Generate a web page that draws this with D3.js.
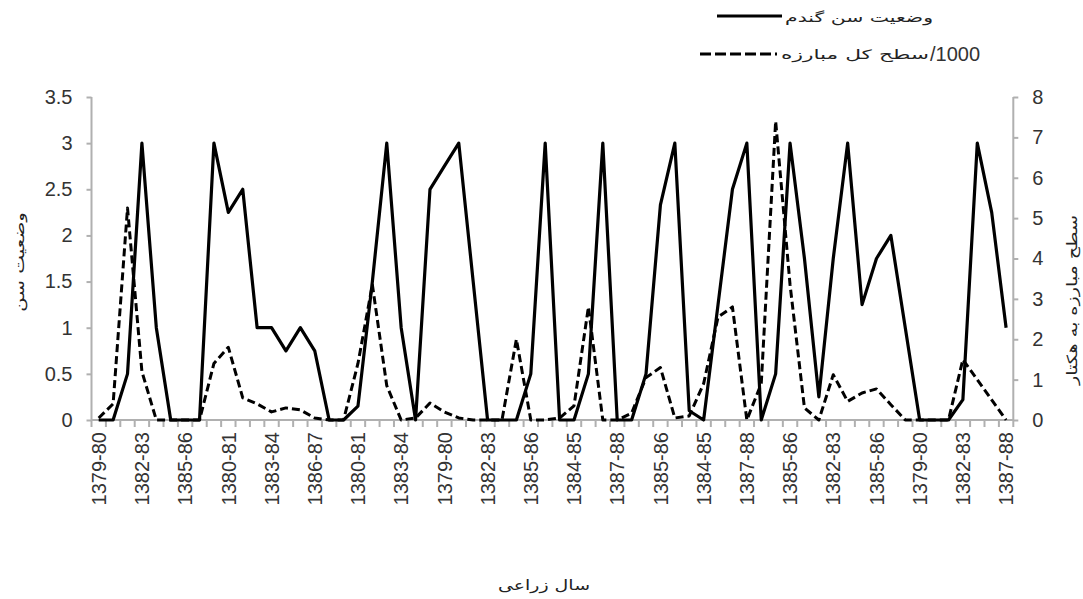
<!DOCTYPE html>
<html lang="fa">
<head>
    <meta charset="UTF-8">
    <title>وضعیت سن گندم و سطح مبارزه</title>
    <script src="https://d3js.org/d3.v7.min.js"></script>
    <style>
        body { margin: 0; background: #fff; }
        svg { display: block; }
        .num { font-family: "Liberation Sans", Arial, sans-serif; font-size: 20px; fill: #333; }
        .fa { font-family: "DejaVu Sans", sans-serif; fill: #222; }
    </style>
</head>
<body>
    <svg width="1083" height="599"></svg>

    <script>
        // categories (crop years, several regions one after another)
        var categories = [
            "1379-80", "1380-81", "1381-82", "1382-83", "1383-84", "1384-85", "1385-86", "1386-87", "1387-88",
            "1380-81", "1381-82", "1382-83", "1383-84", "1384-85", "1385-86", "1386-87", "1387-88",
            "1379-80", "1380-81", "1381-82", "1382-83", "1383-84", "1384-85", "1385-86",
            "1379-80", "1380-81", "1381-82", "1382-83", "1383-84", "1384-85", "1385-86", "1386-87", "1387-88",
            "1384-85", "1385-86", "1386-87", "1387-88",
            "1383-84", "1384-85", "1385-86", "1386-87", "1387-88",
            "1384-85", "1385-86", "1386-87", "1387-88",
            "1383-84", "1384-85", "1385-86", "1386-87", "1387-88",
            "1382-83", "1383-84", "1384-85", "1385-86", "1386-87", "1387-88",
            "1379-80", "1380-81", "1381-82", "1382-83", "1385-86", "1386-87", "1387-88"
        ];

        // وضعیت سن گندم (left axis)
        var pestStatus = [
            0, 0, 0.5, 3, 1, 0, 0, 0, 3,
            2.25, 2.5, 1, 1, 0.75, 1, 0.75, 0,
            0, 0.15, 1.5, 3, 1, 0, 2.5,
            2.75, 3, 1.5, 0, 0, 0, 0.5, 3, 0,
            0, 0.5, 3, 0,
            0, 0.5, 2.33, 3, 0.1,
            0, 1.25, 2.5, 3,
            0, 0.5, 3, 1.75, 0.25,
            1.75, 3, 1.25, 1.75, 2, 1,
            0, 0, 0, 0.22, 3, 2.25, 1
        ];

        // سطح کل مبارزه / 1000 (right axis)
        var controlArea = [
            0.05, 0.4, 5.25, 1.2, 0, 0, 0, 0, 1.4,
            1.8, 0.55, 0.4, 0.2, 0.3, 0.25, 0.05, 0,
            0, 1.4, 3.35, 0.85, 0, 0.05, 0.42,
            0.2, 0.05, 0, 0, 0, 2.0, 0, 0, 0.05,
            0.35, 2.8, 0, 0,
            0.17, 1.05, 1.3, 0.05, 0.1,
            0.9, 2.55, 2.8, 0,
            0.9, 7.4, 3.35, 0.3, 0,
            1.12, 0.46, 0.67, 0.77, 0.38, 0,
            0, 0, 0, 1.5, 1.0, 0.5, 0
        ];

        var leftTicks = [0, 0.5, 1, 1.5, 2, 2.5, 3, 3.5];
        var rightTicks = [0, 1, 2, 3, 4, 5, 6, 7, 8];

        var svg = d3.select("svg");
        // plot box ("top" is taken by window.top, so use other names)
        var plotLeft = 91.5, plotRight = 1013.3, plotTop = 97, plotBottom = 420;
        var axisColor = "#b0b0b0";

        var x = d3.scaleBand()
                  .domain(d3.range(categories.length))
                  .range([plotLeft, plotRight]);
        var yL = d3.scaleLinear().domain([0, 3.5]).range([plotBottom, plotTop]);
        var yR = d3.scaleLinear().domain([0, 8]).range([plotBottom, plotTop]);

        function cx(i) { return x(i) + x.bandwidth() / 2; }

        // left axis
        var gL = svg.append("g")
                    .attr("transform", "translate(" + plotLeft + ",0)")
                    .call(d3.axisLeft(yL).tickValues(leftTicks).tickSize(5).tickPadding(14)
                          .tickFormat(function(d) { return d; }));
        // right axis
        var gR = svg.append("g")
                    .attr("transform", "translate(" + plotRight + ",0)")
                    .call(d3.axisRight(yR).tickValues(rightTicks).tickSize(5).tickPadding(14));

        [gL, gR].forEach(function(g) {
            g.select(".domain").attr("stroke", axisColor).attr("stroke-width", 2)
             .attr("d", "M0," + plotTop + "V" + plotBottom);
            g.selectAll(".tick line").attr("stroke", axisColor).attr("stroke-width", 2);
            g.selectAll(".tick text").attr("class", "num").attr("fill", null);
        });

        // x axis: boundary ticks + rotated labels every third category
        svg.append("line")
           .attr("x1", plotLeft).attr("x2", plotRight)
           .attr("y1", plotBottom).attr("y2", plotBottom)
           .attr("stroke", axisColor).attr("stroke-width", 2);

        svg.selectAll(".xtick")
           .data(d3.range(categories.length + 1))
           .enter()
           .append("line")
           .attr("x1", function(i) { return plotLeft + i * x.bandwidth(); })
           .attr("x2", function(i) { return plotLeft + i * x.bandwidth(); })
           .attr("y1", plotBottom).attr("y2", plotBottom + 7)
           .attr("stroke", axisColor).attr("stroke-width", 2);

        var gX = svg.append("g")
                    .attr("transform", "translate(0," + plotBottom + ")")
                    .call(d3.axisBottom(x)
                          .tickValues(d3.range(0, categories.length, 3))
                          .tickSize(0)
                          .tickFormat(function(i) { return categories[i]; }));
        gX.select(".domain").remove();
        gX.selectAll(".tick text")
          .attr("class", "num")
          .attr("fill", null)
          .attr("transform", "rotate(-90)")
          .attr("x", -12)
          .attr("y", 0)
          .attr("dy", "0.36em")
          .style("text-anchor", "end");

        // lines
        var lineL = d3.line().x(function(d, i) { return cx(i); }).y(function(d) { return yL(d); });
        var lineR = d3.line().x(function(d, i) { return cx(i); }).y(function(d) { return yR(d); });

        svg.append("path")
           .datum(controlArea)
           .attr("d", lineR)
           .attr("fill", "none")
           .attr("stroke", "#000")
           .attr("stroke-width", 3)
           .attr("stroke-dasharray", "8,4")
           .attr("stroke-linejoin", "round");

        svg.append("path")
           .datum(pestStatus)
           .attr("d", lineL)
           .attr("fill", "none")
           .attr("stroke", "#000")
           .attr("stroke-width", 3.2)
           .attr("stroke-linejoin", "round");

        // axis titles
        svg.append("text")
           .attr("class", "fa")
           .attr("transform", "translate(24,262) rotate(-90)")
           .attr("text-anchor", "middle")
           .attr("font-size", 14)
           .attr("textLength", 100)
           .attr("lengthAdjust", "spacingAndGlyphs")
           .text("وضعیت سن");

        svg.append("text")
           .attr("class", "fa")
           .attr("transform", "translate(1077,300) rotate(-90)")
           .attr("text-anchor", "middle")
           .attr("font-size", 14)
           .attr("textLength", 170)
           .attr("lengthAdjust", "spacingAndGlyphs")
           .text("سطح مبارزه به هکتار");

        svg.append("text")
           .attr("class", "fa")
           .attr("x", 544).attr("y", 590)
           .attr("text-anchor", "middle")
           .attr("font-size", 14)
           .attr("textLength", 92)
           .attr("lengthAdjust", "spacingAndGlyphs")
           .text("سال زراعی");

        // legend
        svg.append("line")
           .attr("x1", 717).attr("x2", 782).attr("y1", 16).attr("y2", 16)
           .attr("stroke", "#000").attr("stroke-width", 3);
        svg.append("text")
           .attr("class", "fa")
           .attr("x", 785).attr("y", 22)
           .attr("font-size", 13)
           .attr("textLength", 148)
           .attr("lengthAdjust", "spacingAndGlyphs")
           .text("وضعیت سن گندم");

        svg.append("line")
           .attr("x1", 700).attr("x2", 777).attr("y1", 54).attr("y2", 54)
           .attr("stroke", "#000").attr("stroke-width", 3)
           .attr("stroke-dasharray", "11,4");
        svg.append("text")
           .attr("class", "fa")
           .attr("x", 781).attr("y", 59)
           .attr("font-size", 13)
           .attr("textLength", 148)
           .attr("lengthAdjust", "spacingAndGlyphs")
           .text("سطح کل مبارزه");
        svg.append("text")
           .attr("class", "num")
           .attr("x", 930).attr("y", 61)
           .text("/1000");
    </script>
</body>
</html>
